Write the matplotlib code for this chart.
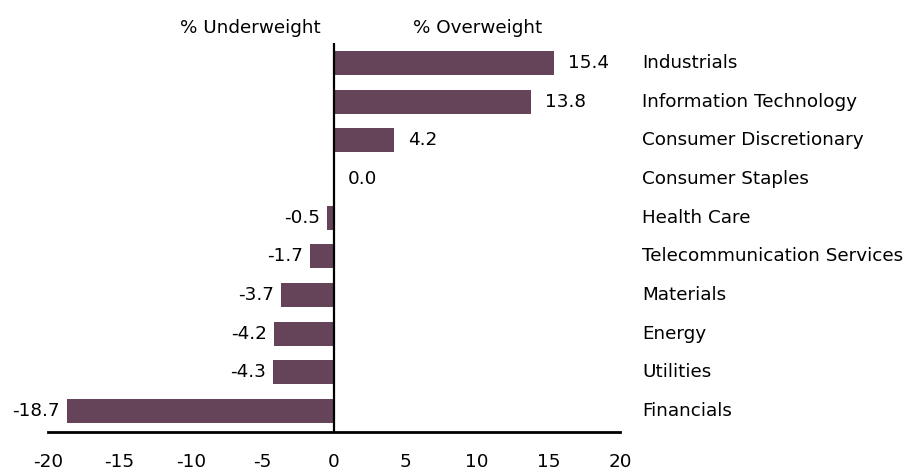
import matplotlib
matplotlib.use("Agg")
import matplotlib.pyplot as plt

categories = ["Industrials", "Information Technology", "Consumer Discretionary",
              "Consumer Staples", "Health Care", "Telecommunication Services",
              "Materials", "Energy", "Utilities", "Financials"]
values = [15.4, 13.8, 4.2, 0.0, -0.5, -1.7, -3.7, -4.2, -4.3, -18.7]
xticks = [-20, -15, -10, -5, 0, 5, 10, 15, 20]

plt.rcParams['font.family'] = ['DejaVu Sans']
fig = plt.figure(figsize=(9.09, 4.70), dpi=100)
ax = fig.add_axes([48/909, 38/470, 572/909, 389/470])
color = "#654359"
y = list(range(len(categories)))
ax.barh(y, values, height=0.62, color=color, zorder=2)
ax.set_xlim(-20, 20)
ax.set_ylim(9.54, -0.52)
ax.axvline(0, color="black", lw=1.6, zorder=3)
for s in ["top", "right", "left"]:
    ax.spines[s].set_visible(False)
ax.spines["bottom"].set_linewidth(2)
ax.set_yticks([])
ax.set_xticks(xticks)
fs = 13.2
ax.set_xticklabels([str(t) for t in xticks], fontsize=fs)
ax.tick_params(axis="x", length=0, pad=15)

for yi, v, c in zip(y, values, categories):
    if v >= 0:
        ax.annotate(f"{v:.1f}", (v, yi), xytext=(10, 0), textcoords="offset points",
                    ha="left", va="center", fontsize=fs)
    else:
        ax.annotate(f"{v:.1f}", (v, yi), xytext=(-5, 0), textcoords="offset points",
                    ha="right", va="center", fontsize=fs)
    ax.text(642/909, 1 - (63 + 38.67*yi)/470, c, transform=fig.transFigure,
            ha="left", va="center", fontsize=fs)

fig.text(250/909, 1 - 28/470, "% Underweight", ha="center", va="center", fontsize=fs)
fig.text(478/909, 1 - 28/470, "% Overweight", ha="center", va="center", fontsize=fs)

fig.savefig("out.png", dpi=100)
